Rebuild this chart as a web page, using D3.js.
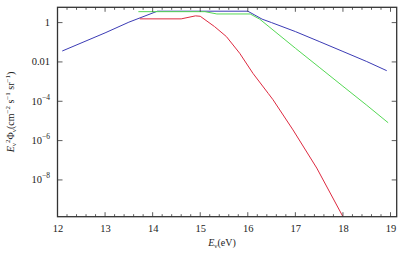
<!DOCTYPE html>
<html><head><meta charset="utf-8">
<script src="https://cdn.jsdelivr.net/npm/d3@7/dist/d3.min.js"></script>
<style>body{margin:0;background:#fff}svg{display:block}text{font-family:"Liberation Serif","DejaVu Serif",serif !important;fill:#222}</style>
</head><body>
<script>
const blueE = [12.1, 13.0, 13.5, 14.1, 16.0, 16.15, 16.3, 16.5, 17.0, 17.5, 18.0, 18.5, 18.92];
const blueF = [0.036, 0.30, 1.05, 3.8, 3.8, 2.4, 1.5, 1.0, 0.35, 0.11, 0.034, 0.0105, 0.0036];
const greenE = [13.7, 15.1, 15.35, 16.05, 16.25, 17.0, 17.5, 18.0, 18.5, 18.95];
const greenF = [3.6, 3.6, 2.75, 2.75, 1.5, 0.05, 0.0054, 5.8e-4, 6.3e-5, 8.1e-6];
const redE = [13.73, 14.6, 14.9, 15.0, 15.3, 15.55, 15.83, 16.11, 16.43, 16.53, 16.95, 17.45, 18.0];
const redF = [1.55, 1.55, 2.2, 2.1, 0.63, 0.195, 0.0275, 0.0026, 2.5e-4, 1.2e-4, 3.5e-6, 4.0e-8, 1.35e-10];
const xTicks = [12, 13, 14, 15, 16, 17, 18, 19];
const yTicks = [1, 1e-2, 1e-4, 1e-6, 1e-8];
const yTickBase = ["1", "0.01", "10", "10", "10"];
const yTickExp = ["", "", "\u22124", "\u22126", "\u22128"];

const W = 403, H = 260;
const L = 57.5, R = 396.7, T = 7.3, B = 216.7;
const svg = d3.select("body").append("svg").attr("width", W).attr("height", H);
const x = d3.scaleLinear().domain([12, 19.13]).range([L, R]);
const y = d3.scaleLog().domain([1.35e-10, 6.0]).range([B, T]);

svg.append("clipPath").attr("id", "c").append("rect")
  .attr("x", L).attr("y", T).attr("width", R - L).attr("height", B - T);

const line = d3.line().x(d => x(d[0])).y(d => y(d[1]));
const series = [
  {E: blueE, F: blueF, c: "#3b3bb5"},
  {E: redE, F: redF, c: "#dd2a40"},
  {E: greenE, F: greenF, c: "#55d855"}
];
const g = svg.append("g").attr("clip-path", "url(#c)");
series.forEach(s => {
  g.append("path").datum(s.E.map((e, i) => [e, s.F[i]]))
    .attr("d", line).attr("fill", "none").attr("stroke", s.c).attr("stroke-width", 1.0);
});

const minorX = d3.range(12, 19.13, 0.2);
const ax = svg.append("g");
minorX.forEach(v => {
  const major = Math.abs(v - Math.round(v)) < 1e-6;
  const len = major ? 4.5 : 2.5;
  ax.append("line").attr("x1", x(v)).attr("x2", x(v)).attr("y1", B).attr("y2", B - len).attr("stroke", "#333").attr("stroke-width", 0.8);
  ax.append("line").attr("x1", x(v)).attr("x2", x(v)).attr("y1", T).attr("y2", T + len).attr("stroke", "#333").attr("stroke-width", 0.8);
});
const xa = svg.append("g").attr("transform", `translate(0,${B})`)
  .call(d3.axisBottom(x).tickValues(xTicks).tickSize(0).tickPadding(8).tickFormat(d3.format("d")));
xa.attr("font-family", null);
xa.select(".domain").remove();
xa.selectAll("text").style("font-size", "10.5px").attr("fill", "#222");

yTicks.forEach((v, i) => {
  ax.append("line").attr("x1", L).attr("x2", L + 5).attr("y1", y(v)).attr("y2", y(v)).attr("stroke", "#333").attr("stroke-width", 0.8);
  ax.append("line").attr("x1", R).attr("x2", R - 5).attr("y1", y(v)).attr("y2", y(v)).attr("stroke", "#333").attr("stroke-width", 0.8);
  const t = svg.append("text").attr("x", 50).attr("y", y(v) + 3.5).attr("text-anchor", "end").style("font-size", "10.5px");
  t.append("tspan").text(yTickBase[i]);
  if (yTickExp[i]) t.append("tspan").attr("dy", -5).style("font-size", "7.5px").text(yTickExp[i]);
});

svg.append("rect").attr("x", L).attr("y", T).attr("width", R - L).attr("height", B - T)
  .attr("fill", "none").attr("stroke", "#333").attr("stroke-width", 1.3);

const xl = svg.append("text").attr("x", 222).attr("y", 246).attr("text-anchor", "middle").style("font-size", "10px");
xl.append("tspan").style("font-style", "italic").text("E");
xl.append("tspan").attr("dy", 2).style("font-size", "7px").text("\u03bd");
xl.append("tspan").attr("dy", -2).text("(eV)");

const yl = svg.append("text").attr("transform", "translate(14,112) rotate(-90)").attr("text-anchor", "middle").style("font-size", "10px");
yl.append("tspan").style("font-style", "italic").text("E");
yl.append("tspan").attr("dy", 2).style("font-size", "7px").text("\u03bd");
yl.append("tspan").attr("dy", -6).style("font-size", "7px").text("2");
yl.append("tspan").attr("dy", 4).text("\u03a6");
yl.append("tspan").attr("dy", 2).style("font-size", "7px").text("\u03bd");
yl.append("tspan").attr("dy", -2).text("(cm");
yl.append("tspan").attr("dy", -4).style("font-size", "7px").text("\u22122");
yl.append("tspan").attr("dy", 4).text(" s");
yl.append("tspan").attr("dy", -4).style("font-size", "7px").text("\u22121");
yl.append("tspan").attr("dy", 4).text(" sr");
yl.append("tspan").attr("dy", -4).style("font-size", "7px").text("\u22121");
yl.append("tspan").attr("dy", 4).text(")");
</script>
</body></html>
